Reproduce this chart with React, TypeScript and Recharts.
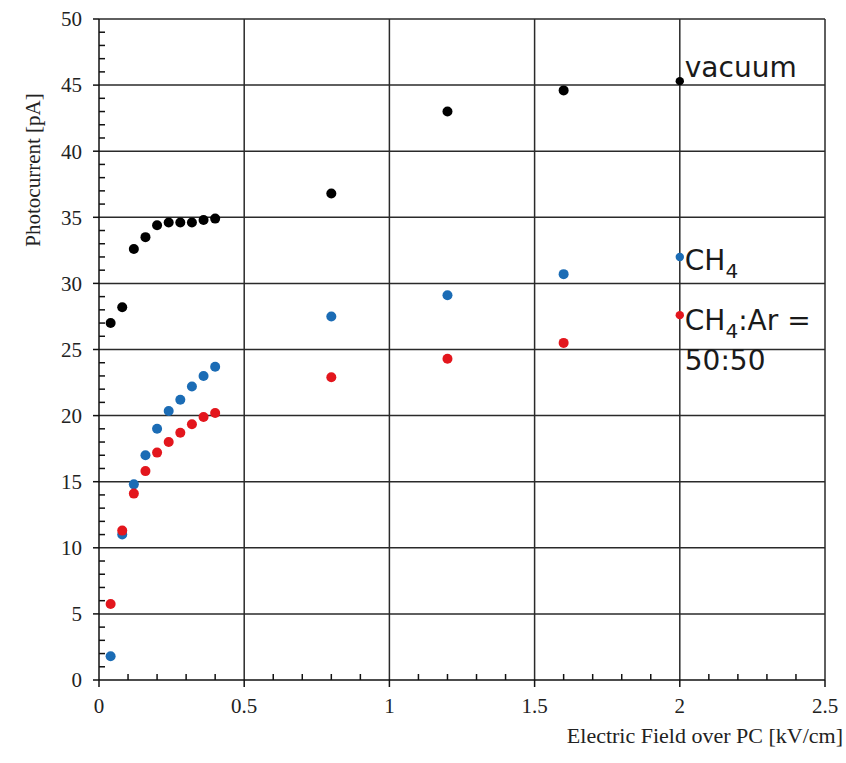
import { ScatterChart, Scatter, XAxis, YAxis, ReferenceLine } from "recharts"

// measured field values (kV/cm) and photocurrents (pA)
const field = [0.04, 0.08, 0.12, 0.16, 0.2, 0.24, 0.28, 0.32, 0.36, 0.4, 0.8, 1.2, 1.6, 2.0]
const vacuum = [27.0, 28.2, 32.6, 33.5, 34.4, 34.6, 34.6, 34.6, 34.8, 34.9, 36.8, 43.0, 44.6, 45.3]
const ch4 = [1.8, 11.0, 14.8, 17.0, 19.0, 20.35, 21.2, 22.2, 23.0, 23.7, 27.5, 29.1, 30.7, 32.0]
const ch4Ar = [5.75, 11.3, 14.1, 15.8, 17.2, 18.0, 18.7, 19.35, 19.9, 20.2, 22.9, 24.3, 25.5, 27.6]

const xTicks = [0, 0.1, 0.2, 0.3, 0.4, 0.5, 0.6, 0.7, 0.8, 0.9, 1, 1.1, 1.2, 1.3, 1.4, 1.5, 1.6, 1.7, 1.8, 1.9, 2, 2.1, 2.2, 2.3, 2.4, 2.5]
const yTicks = [0, 1, 2, 3, 4, 5, 6, 7, 8, 9, 10, 11, 12, 13, 14, 15, 16, 17, 18, 19, 20, 21, 22, 23, 24, 25, 26, 27, 28, 29, 30, 31, 32, 33, 34, 35, 36, 37, 38, 39, 40, 41, 42, 43, 44, 45, 46, 47, 48, 49, 50]
const xGrid = [0.5, 1, 1.5, 2, 2.5]
const yGrid = [5, 10, 15, 20, 25, 30, 35, 40, 45, 50]

const SERIF = "'Liberation Serif', 'Times New Roman', serif"
const SANS = "'DejaVu Sans', sans-serif"
const TICK_SIZE = 6
const TICK_MARGIN = 4

const toPoints = (ys: number[], key: string) =>
  field.map((x, i) => ({ x, y: ys[i], label: i === field.length - 1 ? key : undefined }))

const vacuumData = toPoints(vacuum, "vacuum")
const ch4Data = toPoints(ch4, "ch4")
const ch4ArData = toPoints(ch4Ar, "ch4ar")

const isMajor = (v: number, step: number) => Math.abs(v / step - Math.round(v / step)) < 1e-6

function XTick(props: any) {
  const { x, y, payload } = props
  const axisY = y - TICK_SIZE - TICK_MARGIN
  const v = payload.value
  const major = isMajor(v, 0.5)
  return (
    <g>
      <line x1={x} x2={x} y1={major ? axisY : axisY - 6} y2={major ? axisY + 7 : axisY} stroke="#111" strokeWidth={1.5} />
      {major && (
        <text x={x} y={axisY + 33} textAnchor="middle" fontFamily={SERIF} fontSize={21} fill="#222">
          {String(v)}
        </text>
      )}
    </g>
  )
}

function YTick(props: any) {
  const { x, y, payload } = props
  const axisX = x + TICK_SIZE + TICK_MARGIN
  const v = payload.value
  const major = isMajor(v, 5)
  return (
    <g>
      <line x1={major ? axisX - 6 : axisX} x2={major ? axisX : axisX + 6} y1={y} y2={y} stroke="#111" strokeWidth={1.5} />
      {major && (
        <text x={axisX - 17} y={y} dy="0.35em" textAnchor="end" fontFamily={SERIF} fontSize={21} fill="#222">
          {String(v)}
        </text>
      )}
    </g>
  )
}

const makeDot = (color: string) => (props: any) => {
  const { cx, cy, payload } = props
  const last = payload.label !== undefined
  return (
    <g>
      <circle cx={cx} cy={cy} r={last ? 4.2 : 5} fill={color} />
      {payload.label === "vacuum" && (
        <text x={cx + 5} y={cy - 4} fontFamily={SANS} fontSize={28} fill="#1a1a1a">vacuum</text>
      )}
      {payload.label === "ch4" && (
        <text x={cx + 5} y={cy + 13} fontFamily={SANS} fontSize={28} fill="#1a1a1a">
          CH<tspan dy={8} fontSize={20}>4</tspan>
        </text>
      )}
      {payload.label === "ch4ar" && (
        <g>
          <text x={cx + 5} y={cy + 15} fontFamily={SANS} fontSize={28} fill="#1a1a1a">
            CH<tspan dy={8} fontSize={20}>4</tspan><tspan dy={-8}>:Ar =</tspan>
          </text>
          <text x={cx + 5} y={cy + 55} fontFamily={SANS} fontSize={28} fill="#1a1a1a">50:50</text>
        </g>
      )}
    </g>
  )
}

export default function App() {
  return (
    <div style={{ position: "absolute", left: 0, top: 0, width: 846, height: 763, background: "#fff" }}>
      <ScatterChart width={846} height={763} margin={{ top: 19, right: 21, left: 0, bottom: 0 }}>
        <XAxis
          type="number"
          dataKey="x"
          domain={[0, 2.5]}
          ticks={xTicks}
          interval={0}
          tickSize={TICK_SIZE}
          tickMargin={TICK_MARGIN}
          tickLine={false}
          axisLine={{ stroke: "#111", strokeWidth: 1.5 }}
          tick={<XTick />}
          height={83}
          allowDataOverflow
          label={{
            content: ({ viewBox }: any) => (
              <text x={viewBox.x + viewBox.width + 18} y={viewBox.y + 63} textAnchor="end" fontFamily={SERIF} fontSize={22} fill="#222">
                Electric Field over PC [kV/cm]
              </text>
            ),
          }}
        />
        <YAxis
          type="number"
          dataKey="y"
          domain={[0, 50]}
          ticks={yTicks}
          interval={0}
          tickSize={TICK_SIZE}
          tickMargin={TICK_MARGIN}
          tickLine={false}
          axisLine={{ stroke: "#111", strokeWidth: 1.5 }}
          tick={<YTick />}
          width={99}
          allowDataOverflow
          label={{
            content: ({ viewBox }: any) => (
              <text
                x={viewBox.x + 33}
                y={viewBox.y + 151}
                transform={`rotate(-90 ${viewBox.x + 33} ${viewBox.y + 151})`}
                textAnchor="middle"
                dominantBaseline="central"
                fontFamily={SERIF}
                fontSize={21}
                fill="#222"
              >
                Photocurrent [pA]
              </text>
            ),
          }}
        />
        {yGrid.map((v) => (
          <ReferenceLine key={"h" + v} y={v} stroke="#2a2a2a" strokeWidth={1.5} />
        ))}
        {xGrid.map((v) => (
          <ReferenceLine key={"v" + v} x={v} stroke="#2a2a2a" strokeWidth={1.5} />
        ))}
        <Scatter data={vacuumData} fill="#000" shape={makeDot("#000")} isAnimationActive={false} />
        <Scatter data={ch4Data} fill="#1b6cb5" shape={makeDot("#1b6cb5")} isAnimationActive={false} />
        <Scatter data={ch4ArData} fill="#e3161d" shape={makeDot("#e3161d")} isAnimationActive={false} />
      </ScatterChart>
    </div>
  )
}
